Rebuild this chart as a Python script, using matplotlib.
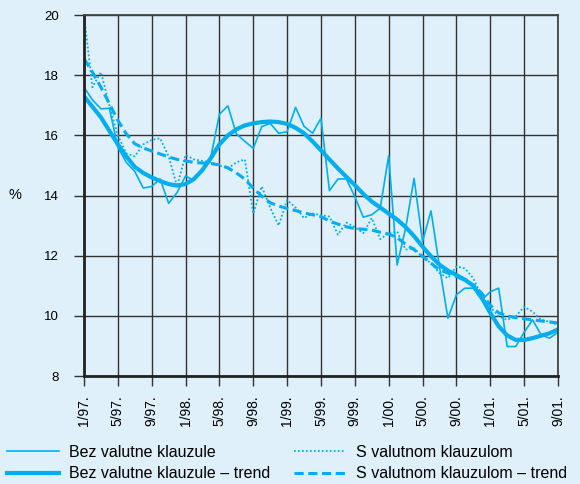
import numpy as np
import matplotlib
matplotlib.use('Agg')
import matplotlib.pyplot as plt

plt.rcParams['font.family'] = ['Liberation Sans', 'DejaVu Sans']

# monthly data, 1/97 .. 9/01
months = np.arange(57)
tick_labels = ['1/97.', '5/97.', '9/97.', '1/98.', '5/98.', '9/98.', '1/99.', '5/99.',
               '9/99.', '1/00.', '5/00.', '9/00.', '1/01.', '5/01.', '9/01.']

bez = [17.6, 17.18, 16.88, 16.9, 15.6, 15.1, 14.8, 14.25, 14.3, 14.55,
       13.74, 14.1, 14.65, 14.5, 14.9, 15.3, 16.7, 16.98, 16.05, 15.8,
       15.57, 16.29, 16.4, 16.07, 16.12, 16.93, 16.3, 16.07, 16.57, 14.16,
       14.55, 14.55, 13.96, 13.28, 13.36, 13.58, 15.32, 11.69, 12.91, 14.57,
       12.47, 13.49, 11.64, 9.92, 10.7, 10.92, 10.92, 10.53, 10.8, 10.92,
       8.98, 8.98, 9.45, 9.87, 9.37, 9.26, 9.45]

bez_trend = [17.3, 16.95, 16.6, 16.15, 15.7, 15.3, 14.95, 14.75, 14.6, 14.48,
             14.38, 14.33, 14.38, 14.55, 14.85, 15.25, 15.7, 16.0, 16.2, 16.33,
             16.4, 16.44, 16.46, 16.44, 16.38, 16.25, 16.07, 15.8, 15.5, 15.2,
             14.9, 14.62, 14.35, 14.05, 13.8, 13.6, 13.4, 13.2, 12.95, 12.65,
             12.3, 11.98, 11.7, 11.5, 11.36, 11.2, 11.0, 10.6, 10.1, 9.65,
             9.35, 9.2, 9.2, 9.26, 9.34, 9.42, 9.55]

s_val = [20.0, 17.6, 18.1, 17.0, 16.0, 15.4, 15.3, 15.7, 15.85, 15.9,
         15.3, 14.3, 15.35, 15.2, 15.15, 15.1, 15.0, 14.9, 15.1, 15.2,
         13.4, 14.3, 13.6, 13.0, 13.85, 13.6, 13.25, 13.4, 13.35, 13.3,
         12.7, 13.1, 12.95, 12.75, 13.25, 12.55, 12.75, 12.8, 12.2, 12.25,
         11.95, 11.75, 11.42, 11.25, 11.64, 11.58, 11.25, 10.64, 10.3, 9.98,
         9.87, 9.98, 10.3, 10.14, 9.87, 9.8, 9.7]

s_trend = [18.55, 18.1, 17.6, 17.05, 16.5, 16.05, 15.72, 15.58, 15.48, 15.38,
           15.28, 15.2, 15.15, 15.1, 15.08, 15.06, 15.02, 14.92, 14.75, 14.55,
           14.24, 13.98, 13.76, 13.65, 13.57, 13.5, 13.42, 13.36, 13.3, 13.15,
           13.05, 12.96, 12.9, 12.88, 12.85, 12.78, 12.72, 12.6, 12.38, 12.2,
           11.98, 11.75, 11.53, 11.42, 11.31, 11.18, 11.03, 10.75, 10.35, 10.1,
           10.0, 9.94, 9.9, 9.87, 9.83, 9.8, 9.76]

bg = '#dff0fa'
blue = '#00aeef'
grid_c = '#333333'

fig = plt.figure(figsize=(5.8, 4.84), dpi=100, facecolor=bg)
ax = fig.add_axes([0.1448, 0.2231, 0.8172, 0.7459])
ax.set_facecolor(bg)

l1, = ax.plot(months, bez, color=blue, lw=1.2, label='Bez valutne klauzule')
l2, = ax.plot(months, bez_trend, color=blue, lw=3.0, label='Bez valutne klauzule – trend')
l3, = ax.plot(months, s_val, color=blue, lw=1.3, ls=(0, (1, 1.2)), label='S valutnom klauzulom')
l4, = ax.plot(months, s_trend, color=blue, lw=2.2, ls=(0, (3, 1.5)), label='S valutnom klauzulom – trend')

ax.set_xlim(0, 56)
ax.set_ylim(8, 20)
ax.set_xticks(np.arange(0, 57, 4))
ax.set_xticklabels(tick_labels, rotation=90, fontsize=10)
ax.set_yticks(np.arange(8, 21, 2))
ax.tick_params(axis='y', labelsize=9.5, length=7, width=1, color=grid_c, pad=11)
ax.tick_params(axis='x', length=7, width=1, color=grid_c, pad=7)
ax.grid(True, color=grid_c, lw=1)
ax.set_axisbelow(True)
for side in ['left', 'bottom']:
    ax.spines[side].set_linewidth(2)
    ax.spines[side].set_color('#222222')
for side in ['top', 'right']:
    ax.spines[side].set_linewidth(1.3)
    ax.spines[side].set_color('#444444')

fig.text(0.026, 0.597, '%', fontsize=10.5, va='center', ha='center')

fig.legend(handles=[l1, l2, l3, l4], ncol=2, loc='lower left',
           bbox_to_anchor=(-0.012, -0.024), frameon=False, fontsize=11.5,
           handlelength=3.2, handletextpad=0.65, columnspacing=1.5,
           labelspacing=0.42)

fig.savefig('out.png', dpi=100, facecolor=bg)
